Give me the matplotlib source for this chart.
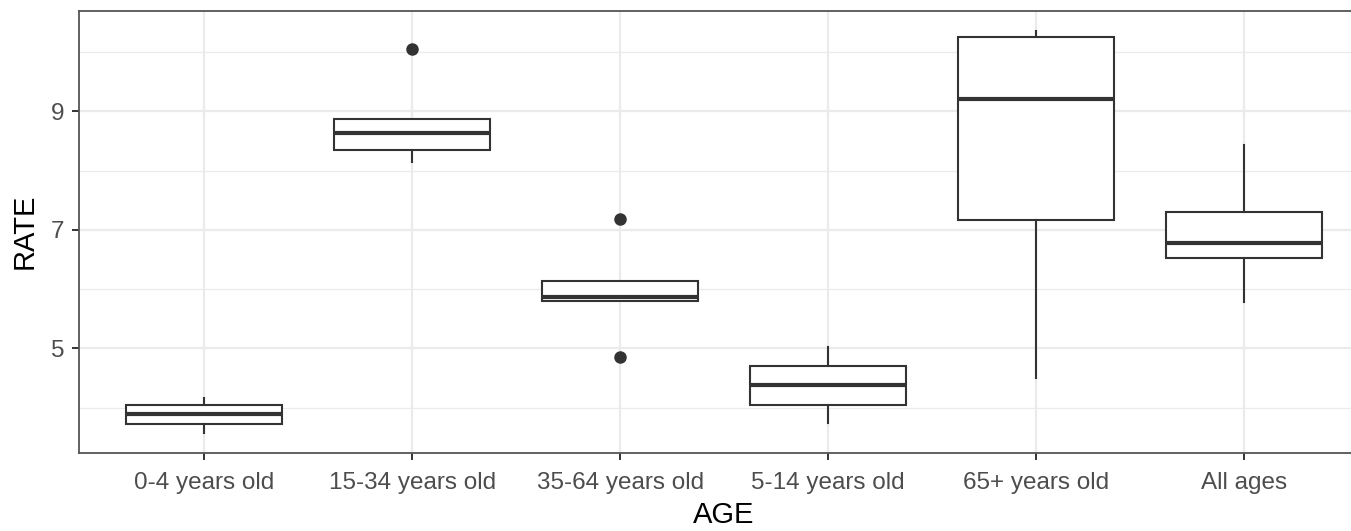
import matplotlib
matplotlib.use("Agg")
import matplotlib.pyplot as plt
from matplotlib.ticker import FixedLocator

plt.rcParams['font.family'] = ['Liberation Sans', 'DejaVu Sans']

categories = ["0-4 years old", "15-34 years old", "35-64 years old",
              "5-14 years old", "65+ years old", "All ages"]
whisker_low = [3.58, 8.14, 5.80, 3.74, 4.50, 5.78]
q1 = [3.73, 8.35, 5.80, 4.05, 7.17, 6.52]
median = [3.90, 8.63, 5.87, 4.38, 9.21, 6.78]
q3 = [4.04, 8.87, 6.14, 4.70, 10.25, 7.31]
whisker_high = [4.17, 8.87, 6.14, 5.02, 10.36, 8.43]
outliers = [[], [10.05], [7.19, 4.86], [], [], []]

W, H = 1351, 531
fig = plt.figure(figsize=(W / 100, H / 100), dpi=100)
left, right, top, bottom = 79.3, 1368.9, 10.7, 452.7
ax = fig.add_axes([left / W, (H - bottom) / H, (right - left) / W, (bottom - top) / H])

stats = []
for i, c in enumerate(categories):
    stats.append(dict(label=c, whislo=whisker_low[i], q1=q1[i], med=median[i],
                      q3=q3[i], whishi=whisker_high[i], fliers=outliers[i]))

dark = '#333333'
ax.bxp(stats, positions=range(len(categories)), widths=0.75, patch_artist=True,
       showcaps=False,
       boxprops=dict(facecolor='white', edgecolor=dark, linewidth=1.5),
       medianprops=dict(color=dark, linewidth=3.0, solid_capstyle='butt'),
       whiskerprops=dict(color=dark, linewidth=1.5),
       flierprops=dict(marker='o', markerfacecolor=dark, markeredgecolor=dark,
                       markersize=8, linestyle='none'),
       zorder=3)

ax.set_xlim(-0.6, 5.6)
ax.set_ylim(3.24, 10.70)
ax.yaxis.set_major_locator(FixedLocator([5, 7, 9]))
ax.yaxis.set_minor_locator(FixedLocator([4, 6, 8, 10]))
ax.set_xticks(range(len(categories)))
ax.set_xticklabels(categories)

ax.grid(which='major', color='#EBEBEB', linewidth=1.6, zorder=0)
ax.grid(which='minor', axis='y', color='#EBEBEB', linewidth=0.9, zorder=0)
ax.set_axisbelow(True)

for s in ax.spines.values():
    s.set_color('#555555')
    s.set_linewidth(1.3)

ax.tick_params(axis='both', which='major', length=5, width=1.4, color=dark,
               labelsize=17.5, labelcolor='#4D4D4D', pad=5.5)
ax.tick_params(axis='x', which='major', pad=9)
ax.tick_params(axis='y', which='minor', length=0)

ax.set_xlabel('AGE', fontsize=21, color='black', labelpad=5)
ax.set_ylabel('RATE', fontsize=21, color='black', labelpad=9)

fig.savefig('out.png', dpi=100, facecolor='white')
